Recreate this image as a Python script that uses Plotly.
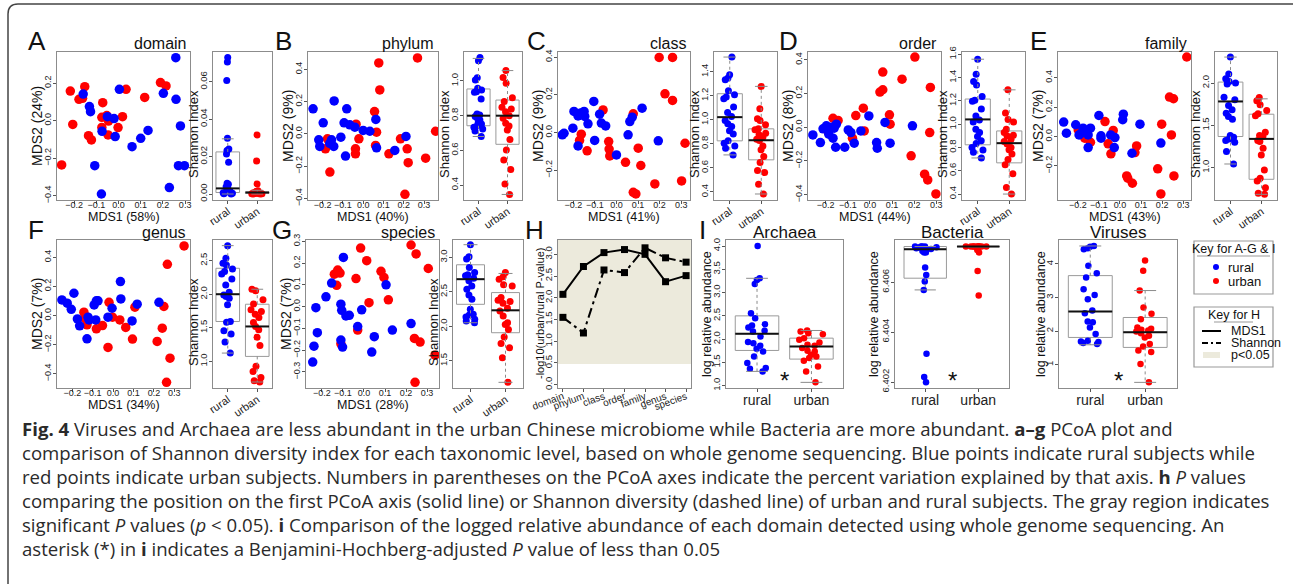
import plotly.graph_objects as go

W, H = 1293, 584
FONT = "Liberation Sans, Arial, sans-serif"
CAPFONT = "Open Sans, Lato, sans-serif"
BLUE, RED = "#0000FF", "#FF0000"
FRAME = "#8c8c8c"

# ---------------- data ----------------
# A domain
dom_rural_mds1 = [-0.159,-0.131,-0.126,-0.107,-0.077,-0.074,-0.050,-0.020,-0.015,0.004,0.061,0.100,0.133,0.202,0.229,0.258,0.259,0.270,0.279,0.297]
dom_rural_mds2 = [0.142,0.075,0.048,-0.240,-0.391,-0.057,0.021,0.011,-0.085,0.167,-0.139,-0.094,-0.052,0.146,-0.357,0.336,0.114,-0.240,-0.028,-0.240]
dom_urban_mds1 = [-0.256,-0.217,-0.152,-0.178,-0.162,-0.206,-0.135,-0.122,-0.071,-0.075,-0.075,-0.053,-0.045,-0.047,-0.002,0.018,0.034,0.118,0.189,0.214]
dom_urban_mds2 = [-0.236,0.158,0.181,0.114,0.119,-0.020,-0.080,-0.103,0.096,0.018,-0.036,0.027,-0.002,-0.076,-0.037,0.021,0.167,0.124,0.203,0.185]
dom_rural_sh = [0.073,0.0705,0.0607,0.0298,0.0241,0.0232,0.0214,0.017,0.0057,0.0052,0.0039,0.003,0.0021,0.0013,0.0004,0.0,0.0007,0.0018,0.0002,0.0011]
dom_urban_sh = [0.0316,0.0177,0.0054,0.0018,0.0013,0.0007,0.0004,0.0002,0.0,0.0011,0.0005,0.0009,0.0004,0.0014,0.0002,0.0007,0.0,0.0005,0.0004]
dom_rural_box = [0.0, 0.0008, 0.003, 0.0225, 0.0295]
dom_urban_box = [0.0, 0.0003, 0.0008, 0.0012, 0.002]

# B phylum
phy_rural_mds1 = [-0.247,-0.197,-0.143,-0.219,-0.214,-0.156,-0.145,-0.165,-0.110,-0.094,-0.081,-0.087,-0.066,-0.041,0.000,0.033,0.0625,0.066,0.156,0.211]
phy_rural_mds2 = [0.155,0.068,0.204,-0.037,-0.078,-0.037,-0.078,-0.06,-0.021,0.068,0.155,-0.138,0.056,0.041,0.021,0.016,0.089,-0.087,-0.103,-0.016]
phy_urban_mds1 = [0.077,0.082,0.268,0.056,0.066,0.061,-0.035,-0.021,-0.038,-0.038,-0.176,-0.186,-0.164,0.127,0.184,0.217,0.222,0.206,0.308,0.357]
phy_urban_mds2 = [0.439,0.272,0.470,0.138,0.010,-0.072,0.060,-0.031,-0.093,-0.124,-0.031,-0.093,-0.237,-0.124,-0.031,-0.093,-0.179,-0.375,-0.151,0.016]
phy_rural_sh = [1.135,1.117,1.019,1.006,0.958,0.948,0.938,0.935,0.896,0.81,0.804,0.795,0.788,0.775,0.762,0.752,0.742,0.733,0.723,0.712,0.68]
phy_urban_sh = [1.06,1.02,0.987,0.904,0.881,0.848,0.838,0.823,0.80,0.785,0.756,0.74,0.717,0.663,0.602,0.544,0.49,0.406,0.346]
phy_rural_box = [0.68, 0.742, 0.80, 0.954, 1.13]
phy_urban_box = [0.346, 0.635, 0.80, 0.89, 1.06]

# C class
cls_rural_mds1 = [-0.251,-0.243,-0.197,-0.178,-0.166,-0.150,-0.147,-0.132,-0.202,-0.178,-0.105,-0.078,-0.070,-0.050,-0.101,0.0,0.054,0.062,0.073,0.119,0.194]
cls_rural_mds2 = [-0.012,-0.004,0.112,0.088,0.103,0.112,0.085,0.046,0.023,-0.071,0.165,0.097,0.050,0.035,-0.042,-0.119,-0.012,0.058,0.081,0.129,-0.044]
cls_urban_mds1 = [-0.062,-0.163,-0.171,-0.136,-0.036,-0.034,-0.031,0.042,0.078,0.101,0.113,0.078,0.090,0.178,0.198,0.260,0.225,0.260,0.318,0.302]
cls_urban_mds2 = [0.120,-0.009,-0.042,-0.097,-0.048,-0.088,-0.124,-0.158,0.099,-0.083,-0.175,-0.317,-0.326,-0.273,0.398,0.398,0.205,0.170,-0.057,-0.257]
cls_rural_sh = [1.522,1.375,1.347,1.333,1.242,1.208,1.189,1.175,1.106,1.061,1.028,0.994,0.967,0.944,0.908,0.881,0.825,0.806,0.783,0.764,0.708]
cls_urban_sh = [1.278,1.092,1.008,0.994,0.958,0.925,0.917,0.889,0.875,0.856,0.839,0.828,0.783,0.75,0.694,0.644,0.578,0.561,0.464,0.383]
cls_rural_box = [0.708, 0.825, 1.022, 1.217, 1.522]
cls_urban_box = [0.383, 0.667, 0.83, 0.925, 1.278]

# D order
ord_rural_mds1 = [-0.258,-0.224,-0.212,-0.197,-0.186,-0.177,-0.167,-0.162,-0.152,-0.155,-0.114,-0.098,-0.086,-0.071,-0.041,-0.005,0.030,0.033,0.068,0.091,0.192]
ord_rural_mds2 = [-0.046,-0.091,-0.010,0.008,-0.042,0.0,-0.065,-0.006,0.018,-0.119,-0.119,-0.016,-0.032,-0.095,-0.022,0.067,-0.091,-0.125,0.028,-0.095,0.008]
ord_urban_mds1 = [-0.167,-0.144,-0.189,-0.079,-0.064,-0.030,-0.026,0.045,0.058,0.058,0.088,0.091,0.145,0.203,0.273,0.270,0.186,0.247,0.261,0.298]
ord_urban_mds2 = [0.053,0.040,-0.026,-0.065,0.069,0.113,-0.022,0.208,0.222,0.327,0.073,0.018,0.285,0.416,0.236,-0.032,-0.170,-0.279,-0.313,-0.396]
ord_rural_sh = [1.558,1.428,1.366,1.337,1.238,1.205,1.196,1.131,1.071,1.035,1.018,0.956,0.928,0.894,0.834,0.800,0.778,0.758,0.71,0.857]
ord_urban_sh = [1.295,1.097,1.041,1.018,0.956,0.928,0.905,0.871,0.852,0.829,0.8,0.781,0.744,0.696,0.651,0.575,0.456,0.40,0.9]
ord_rural_box = [0.71, 0.823, 1.041, 1.216, 1.558]
ord_urban_box = [0.40, 0.668, 0.837, 0.942, 1.295]

# E family
fam_rural_mds1 = [-0.267,-0.254,-0.21,-0.194,-0.183,-0.175,-0.162,-0.151,-0.140,-0.151,-0.1,-0.090,-0.090,-0.044,-0.024,-0.027,0.016,0.013,0.057,0.095,0.194]
fam_rural_mds2 = [0.098,0.023,0.080,0.011,0.023,0.057,0.027,0.011,0.057,-0.075,0.143,0.005,-0.011,0.011,-0.007,-0.075,0.152,0.114,-0.114,0.084,-0.045]
fam_urban_mds1 = [-0.198,-0.167,-0.140,-0.071,-0.056,-0.043,-0.032,0.032,0.037,0.059,0.079,0.071,0.179,0.194,0.198,0.235,0.254,0.244,0.256,0.317]
fam_urban_mds2 = [0.045,-0.011,-0.039,0.102,-0.05,-0.118,0.041,-0.268,-0.284,-0.318,-0.064,-0.109,-0.220,-0.391,0.084,0.268,0.257,0.011,-0.268,0.541]
fam_rural_sh = [2.308,2.107,2.051,2.02,2.0,1.988,1.834,1.802,1.735,1.644,1.605,1.573,1.379,1.36,1.34,1.32,1.3,1.19,1.043,1.684]
fam_urban_sh = [1.83,1.79,1.743,1.676,1.636,1.613,1.419,1.379,1.368,1.308,1.229,1.15,0.972,0.874,0.842,0.763,0.696,0.684,1.32]
fam_rural_box = [1.043, 1.368, 1.783, 2.012, 2.308]
fam_urban_box = [0.684, 0.862, 1.34, 1.632, 1.814]

# F genus
gen_rural_mds1 = [-0.251,-0.225,-0.205,-0.192,-0.175,-0.164,-0.128,-0.123,-0.118,-0.093,-0.082,-0.074,-0.085,-0.025,-0.005,0.036,0.038,0.093,0.118,0.225]
gen_rural_mds2 = [0.107,0.085,0.043,0.153,-0.023,-0.071,-0.160,-0.011,-0.030,0.073,0.101,0.101,-0.030,-0.011,0.050,0.233,0.114,-0.037,0.078,0.091]
gen_urban_mds1 = [-0.143,-0.139,-0.128,-0.082,-0.052,-0.020,-0.025,-0.003,0.033,0.062,0.095,0.107,0.216,0.241,0.249,0.266,0.279,0.262,0.348]
gen_urban_mds2 = [0.023,-0.018,-0.064,-0.091,-0.069,0.091,-0.219,-0.011,-0.030,-0.082,-0.162,0.057,-0.178,-0.087,0.062,0.352,-0.293,-0.459,0.478]
gen_rural_sh = [2.723,2.535,2.46,2.436,2.376,2.337,2.302,2.228,2.139,2.03,1.99,1.965,1.94,1.842,1.594,1.584,1.455,1.406,1.287,1.124]
gen_urban_sh = [2.074,2.05,1.916,1.856,1.767,1.743,1.703,1.579,1.52,1.47,1.361,1.238,0.926,0.851,0.762,0.713,0.693,1.653]
gen_rural_box = [1.124, 1.594, 2.0, 2.386, 2.723]
gen_urban_box = [0.693, 1.074, 1.52, 1.851, 2.074]

# G species
spe_rural_mds1 = [-0.244,-0.238,-0.229,-0.222,-0.181,-0.154,-0.110,-0.106,-0.110,-0.102,-0.098,-0.086,-0.070,-0.030,-0.011,0.037,0.049,0.105,0.135,0.224]
spe_rural_mds2 = [-0.255,-0.182,-0.005,-0.120,0.045,0.108,0.011,-0.017,-0.154,-0.186,0.226,-0.043,-0.040,-0.092,-0.015,-0.209,-0.138,0.100,-0.108,-0.078]
spe_urban_mds1 = [-0.141,-0.125,-0.114,-0.130,-0.110,-0.038,-0.030,-0.016,0.013,0.024,0.081,0.095,0.116,0.224,0.248,0.306,0.240,0.267,0.338,0.243]
spe_urban_mds2 = [0.149,0.168,0.154,0.098,-0.171,0.129,-0.108,0.269,0.211,0.018,0.162,0.134,0.031,0.283,0.242,0.175,-0.146,-0.163,-0.223,-0.348]
spe_rural_sh = [3.184,3.01,2.976,2.854,2.782,2.748,2.733,2.699,2.66,2.587,2.539,2.456,2.393,2.248,2.165,2.136,2.102,2.078,2.053,2.175]
spe_urban_sh = [2.782,2.718,2.684,2.587,2.417,2.379,2.359,2.262,2.223,2.15,2.053,1.956,1.845,1.752,1.689,1.544,1.189,2.029,2.335,2.602]
spe_rural_box = [2.053, 2.32, 2.684, 2.893, 3.184]
spe_urban_box = [1.189, 1.908, 2.233, 2.49, 2.767]

# H p-values
levels = ["domain", "phylum", "class", "order", "family", "genus", "species"]
mds1_logp = [2.08, 2.72, 3.04, 3.11, 3.0, 2.37, 2.51]
shannon_logp = [1.55, 1.19, 2.64, 2.58, 3.15, 2.92, 2.82]
signif_level = 0.475

# I abundance
arc_rural = [4.0,3.307,3.271,3.186,2.557,2.45,2.321,2.293,2.25,2.179,2.164,2.057,1.936,1.914,1.857,1.793,1.736,1.629,1.486,1.379,1.307,1.364]
arc_urban = [2.186,2.164,2.129,2.107,2.021,1.986,1.929,1.879,1.857,1.807,1.736,1.664,1.629,1.593,1.536,1.414,1.307,1.071,1.75]
arc_rural_box = [1.307, 1.757, 2.114, 2.5, 3.307]
arc_urban_box = [1.071, 1.571, 1.843, 2.021, 2.186]
bac_rural = [6.40743,6.40743,6.40743,6.40743,6.4074,6.40739,6.40736,6.40733,6.40732,6.40732,6.40725,6.40719,6.40719,6.40659,6.40629,6.40603,6.40569,6.40313,6.4022,6.40199]
bac_urban = [6.40743,6.40743,6.40743,6.40743,6.40743,6.40743,6.40743,6.40743,6.40743,6.40743,6.40736,6.40729,6.40719,6.40645,6.40547]
bac_rural_box = [6.40569, 6.40616, 6.40732, 6.40743, 6.40743]
bac_urban_box = [6.40741, 6.40742, 6.40743, 6.40743, 6.40743]
vir_rural = [4.535,4.515,4.465,4.436,3.95,3.723,3.594,3.248,3.079,2.95,2.614,2.535,2.287,2.267,2.109,1.911,1.693,1.673,1.644,1.614,1.713]
vir_urban = [4.1,3.80,3.208,2.703,2.515,2.356,2.109,2.069,2.02,1.99,1.94,1.861,1.812,1.614,1.545,1.426,1.376,1.02,0.475,2.04]
vir_rural_box = [1.594, 1.812, 2.584, 3.653, 4.535]
vir_urban_box = [0.475, 1.515, 1.970, 2.406, 3.208]

groups = ["rural", "urban"]

# ---------------- helpers ----------------
fig = go.Figure()
axes = {}
annots = []
shapes = []
count = [0]


def px2x(p):
    return p / W


def px2y(p):
    return 1 - p / H


def new_axes(xpx, ypx, xr, yr, xkw=None, ykw=None):
    count[0] += 1
    n = count[0]
    s = "" if n == 1 else str(n)
    base = dict(showline=True, mirror=True, linecolor=FRAME, linewidth=1, ticks="outside",
                ticklen=3, tickcolor="#555", showgrid=False, zeroline=False, fixedrange=True,
                automargin=False, tickfont=dict(family=FONT, size=9, color="#222"))
    xa = dict(base, domain=[px2x(xpx[0]), px2x(xpx[1])], range=xr, anchor="y" + s, tickangle=0,
              ticklabelstandoff=-7)
    ya = dict(base, domain=[px2y(ypx[1]), px2y(ypx[0])], range=yr, anchor="x" + s, tickangle=-90,
              ticklabelstandoff=-2)
    if xkw:
        xa.update(xkw)
    if ykw:
        ya.update(ykw)
    axes["xaxis" + s] = xa
    axes["yaxis" + s] = ya
    return "x" + s, "y" + s


def text(x, y, s, size, xanchor="center", yanchor="middle", angle=0, font=FONT, color="#111"):
    annots.append(dict(x=px2x(x), y=px2y(y), xref="paper", yref="paper", text=s, showarrow=False,
                       xanchor=xanchor, yanchor=yanchor, textangle=angle,
                       font=dict(family=font, size=size, color=color)))


def scatter_panel(xpx, ypx, xr, yr, yticks, rx, ry, ux, uy, xlab, ylab, title, letter, letter_xy):
    xa, ya = new_axes(xpx, ypx, xr, yr,
                      xkw=dict(tickvals=[-0.2, -0.1, 0.0, 0.1, 0.2, 0.3], tickformat=".1f"),
                      ykw=dict(tickvals=yticks, tickformat=".1f"))
    fig.add_trace(go.Scatter(x=ux, y=uy, mode="markers", xaxis=xa, yaxis=ya,
                             marker=dict(color=RED, size=9.5), hoverinfo="skip"))
    fig.add_trace(go.Scatter(x=rx, y=ry, mode="markers", xaxis=xa, yaxis=ya,
                             marker=dict(color=BLUE, size=9.5), hoverinfo="skip"))
    cx = (xpx[0] + xpx[1]) / 2
    text(cx, ypx[1] + 17, xlab, 12.5)
    text(xpx[0] - 20, (ypx[0] + ypx[1]) / 2, ylab, 14, angle=-90)
    text(xpx[1] - 2, ypx[0] - 8, title, 16, xanchor="right")
    text(letter_xy[0], letter_xy[1], letter, 26)


def box_group(xa, ya, pos, stats, pts, color, width=0.8, msize=7, jitter=0.55):
    lo, q1, med, q3, hi = stats
    fig.add_trace(go.Box(x=[pos], q1=[q1], median=[med], q3=[q3], lowerfence=[q1], upperfence=[q3],
                         width=width, fillcolor="white", line=dict(color="#9a9a9a", width=1),
                         whiskerwidth=0, boxpoints=False, xaxis=xa, yaxis=ya, hoverinfo="skip"))
    for a, b in ((q3, hi), (q1, lo)):
        fig.add_trace(go.Scatter(x=[pos, pos], y=[a, b], mode="lines", xaxis=xa, yaxis=ya,
                                 line=dict(color="#8a8a8a", width=1, dash="dot"), hoverinfo="skip"))
        fig.add_trace(go.Scatter(x=[pos - width / 4, pos + width / 4], y=[b, b], mode="lines",
                                 xaxis=xa, yaxis=ya, line=dict(color="#8a8a8a", width=1), hoverinfo="skip"))
    fig.add_trace(go.Scatter(x=[pos - width / 2, pos + width / 2], y=[med, med], mode="lines",
                             xaxis=xa, yaxis=ya, line=dict(color="#111", width=2), hoverinfo="skip"))
    fig.add_trace(go.Box(x=[pos] * len(pts), y=pts, boxpoints="all", jitter=jitter, pointpos=0,
                         width=width, fillcolor="rgba(0,0,0,0)", line=dict(color="rgba(0,0,0,0)", width=0),
                         whiskerwidth=0, marker=dict(color=color, size=msize, opacity=1),
                         xaxis=xa, yaxis=ya, hoverinfo="skip"))


def shannon_panel(xpx, ypx, yr, yticks, yfmt, rpts, upts, rbox, ubox):
    xa, ya = new_axes(xpx, ypx, [0.5, 2.5], yr,
                      xkw=dict(tickvals=[1, 2], ticktext=groups, tickangle=-35, ticklabelstandoff=-3,
                               tickfont=dict(family=FONT, size=11, color="#222")),
                      ykw=dict(tickvals=yticks, tickformat=yfmt,
                               tickfont=dict(family=FONT, size=9.5, color="#222")))
    box_group(xa, ya, 1, rbox, rpts, BLUE)
    box_group(xa, ya, 2, ubox, upts, RED)
    text(xpx[0] - 20, (ypx[0] + ypx[1]) / 2 + 8, "Shannon Index", 13, angle=-90)


def abund_panel(xpx, ypx, yr, yticks, yfmt, rpts, upts, rbox, ubox, title, ydx):
    xa, ya = new_axes(xpx, ypx, [0.43, 2.58], yr,
                      xkw=dict(tickvals=[1, 2], ticktext=groups, ticklabelstandoff=-4,
                               tickfont=dict(family=FONT, size=14, color="#222")),
                      ykw=dict(tickvals=yticks, tickformat=yfmt,
                               tickfont=dict(family=FONT, size=9.5, color="#222")))
    box_group(xa, ya, 1, rbox, rpts, BLUE, msize=6.5, jitter=0.6)
    box_group(xa, ya, 2, ubox, upts, RED, msize=6.5, jitter=0.6)
    cx = (xpx[0] + xpx[1]) / 2
    text(cx, ypx[0] - 8, title, 17)
    text(xpx[0] - ydx, (ypx[0] + ypx[1]) / 2, "log relative abundance", 12.5, angle=-90)
    text(cx, ypx[1] - 8, "*", 24)


TOP = (52, 200)
BOT = (240, 388)

# ---------------- top row ----------------
scatter_panel((57, 190), TOP, [-0.277, 0.322], [-0.423, 0.366], [-0.4, -0.2, 0.0, 0.2],
              dom_rural_mds1, dom_rural_mds2, dom_urban_mds1, dom_urban_mds2,
              "MDS1 (58%)", "MDS2 (24%)", "domain", "A", (37, 41))
shannon_panel((213, 272), TOP, [-0.0032, 0.0759], [0.0, 0.02, 0.04, 0.06], ".2f",
              dom_rural_sh, dom_urban_sh, dom_rural_box, dom_urban_box)

scatter_panel((308, 438), TOP, [-0.272, 0.369], [-0.41, 0.507], [-0.4, -0.2, 0.0, 0.2, 0.4],
              phy_rural_mds1, phy_rural_mds2, phy_urban_mds1, phy_urban_mds2,
              "MDS1 (40%)", "MDS2 (9%)", "phylum", "B", (283, 41))
shannon_panel((464, 522), TOP, [0.314, 1.167], [0.4, 0.6, 0.8, 1.0], ".1f",
              phy_rural_sh, phy_urban_sh, phy_rural_box, phy_urban_box)

scatter_panel((558, 690), TOP, [-0.271, 0.341], [-0.358, 0.427], [-0.2, 0.0, 0.2, 0.4],
              cls_rural_mds1, cls_rural_mds2, cls_urban_mds1, cls_urban_mds2,
              "MDS1 (41%)", "MDS2 (9%)", "class", "C", (536, 41))
shannon_panel((714, 777), TOP, [0.333, 1.564], [0.4, 0.6, 0.8, 1.0, 1.2, 1.4], ".1f",
              cls_rural_sh, cls_urban_sh, cls_rural_box, cls_urban_box)

scatter_panel((808, 941), TOP, [-0.28, 0.321], [-0.432, 0.446], [-0.4, -0.2, 0.0, 0.2, 0.4],
              ord_rural_mds1, ord_rural_mds2, ord_urban_mds1, ord_urban_mds2,
              "MDS1 (44%)", "MDS2 (8%)", "order", "D", (788, 41))
shannon_panel((962, 1025), TOP, [0.349, 1.62], [0.4, 0.6, 0.8, 1.0, 1.2, 1.4, 1.6], ".1f",
              ord_rural_sh, ord_urban_sh, ord_rural_box, ord_urban_box)

scatter_panel((1058, 1191), TOP, [-0.294, 0.337], [-0.432, 0.575], [-0.2, 0.0, 0.2, 0.4],
              fam_rural_mds1, fam_rural_mds2, fam_urban_mds1, fam_urban_mds2,
              "MDS1 (43%)", "MDS2 (7%)", "family", "E", (1038, 41))
shannon_panel((1215, 1277), TOP, [0.617, 2.368], [1.0, 1.5, 2.0], ".1f",
              fam_rural_sh, fam_urban_sh, fam_rural_box, fam_urban_box)

# ---------------- bottom row ----------------
scatter_panel((57, 190), BOT, [-0.275, 0.377], [-0.498, 0.519], [-0.4, -0.2, 0.0, 0.2, 0.4],
              gen_rural_mds1, gen_rural_mds2, gen_urban_mds1, gen_urban_mds2,
              "MDS1 (34%)", "MDS2 (7%)", "genus", "F", (36, 230))
shannon_panel((213, 272), BOT, [0.604, 2.807], [1.0, 1.5, 2.0, 2.5], ".1f",
              gen_rural_sh, gen_urban_sh, gen_rural_box, gen_urban_box)

scatter_panel((306, 439), BOT, [-0.276, 0.357], [-0.374, 0.306], [-0.3, -0.2, -0.1, 0.0, 0.1, 0.2, 0.3],
              spe_rural_mds1, spe_rural_mds2, spe_urban_mds1, spe_urban_mds2,
              "MDS1 (28%)", "MDS2 (7%)", "species", "G", (282, 230))
shannon_panel((453, 523), BOT, [1.107, 3.252], [1.5, 2.0, 2.5, 3.0], ".1f",
              spe_rural_sh, spe_urban_sh, spe_rural_box, spe_urban_box)

# H
hx, hy = new_axes((558, 691), BOT, [0.76, 7.24], [-0.076, 3.33],
                  xkw=dict(tickvals=list(range(1, 8)), ticktext=levels, tickangle=-20, ticklabelstandoff=-5,
                           tickfont=dict(family=FONT, size=10, color="#222")),
                  ykw=dict(tickvals=[0, 0.5, 1, 1.5, 2, 2.5, 3], tickformat=".1f",
                           tickfont=dict(family=FONT, size=9.5, color="#222")))
shapes.append(dict(type="rect", xref=hx + " domain", yref=hy, x0=0, x1=1, y0=signif_level, y1=3.33,
                   fillcolor="#ECEADC", line=dict(width=0), layer="below"))
lv = list(range(1, 8))
fig.add_trace(go.Scatter(x=lv, y=mds1_logp, mode="lines+markers", xaxis=hx, yaxis=hy,
                         line=dict(color="#000", width=2),
                         marker=dict(symbol="square", size=7, color="#000"), hoverinfo="skip"))
fig.add_trace(go.Scatter(x=lv, y=shannon_logp, mode="lines+markers", xaxis=hx, yaxis=hy,
                         line=dict(color="#000", width=2, dash="10px,4px,3px,4px"),
                         marker=dict(symbol="square", size=7, color="#000"), hoverinfo="skip"))
text(540, 314, "-log10(urban/rural P-value)", 11, angle=-90)
text(534, 230, "H", 26)

# I
abund_panel((726, 843), BOT, [0.95, 4.13], [1.0, 1.5, 2.0, 2.5, 3.0, 3.5, 4.0], ".1f",
            arc_rural, arc_urban, arc_rural_box, arc_urban_box, "Archaea", 19)
abund_panel((895, 1009), BOT, [6.40176, 6.40769], [6.402, 6.404, 6.406], ".3f",
            bac_rural, bac_urban, bac_rural_box, bac_urban_box, "Bacteria", 21)
abund_panel((1059, 1177), BOT, [0.307, 4.713], [1, 2, 3, 4], "d",
            vir_rural, vir_urban, vir_rural_box, vir_urban_box, "Viruses", 18)
text(702, 230, "I", 26)

# ---------------- keys ----------------
def prect(x0, y0, x1, y1, **kw):
    d = dict(type="rect", xref="paper", yref="paper", x0=px2x(x0), x1=px2x(x1), y0=px2y(y1), y1=px2y(y0))
    d.update(kw)
    shapes.append(d)


def pline(x0, y0, x1, y1, **kw):
    d = dict(type="line", xref="paper", yref="paper", x0=px2x(x0), x1=px2x(x1), y0=px2y(y0), y1=px2y(y1))
    d.update(kw)
    shapes.append(d)


prect(1194, 241, 1273, 294, line=dict(color="#999", width=1.2), fillcolor="white")
text(1233.5, 249, "Key for A-G & I", 12.5)
pline(1197, 256, 1270, 256, line=dict(color="#999", width=1))
for yy, c, lab in ((267, BLUE, "rural"), (281, RED, "urban")):
    shapes.append(dict(type="circle", xref="paper", yref="paper", x0=px2x(1213), x1=px2x(1219),
                       y0=px2y(yy + 3), y1=px2y(yy - 3), fillcolor=c, line=dict(width=0)))
    text(1226, yy, lab, 13, xanchor="left")

prect(1194, 307, 1273, 367, line=dict(color="#999", width=1.2), fillcolor="white")
text(1233.5, 315, "Key for H", 12.5)
pline(1214, 322, 1253, 322, line=dict(color="#999", width=1))
pline(1202, 331, 1221, 331, line=dict(color="#000", width=2))
text(1229, 331, "MDS1", 12.5, xanchor="left")
pline(1202, 343, 1221, 343, line=dict(color="#000", width=2, dash="6px,3px,2px,3px"))
text(1229, 343, "Shannon", 12.5, xanchor="left")
pline(1203, 355, 1220, 355, line=dict(color="#ECEADC", width=6))
text(1229, 355, "p&lt;0.05", 12.5, xanchor="left")

# ---------------- border ----------------
path = "M {a},{b} L {a},{c} Q {a},{d} {e},{d} L {f},{d}".format(
    a=px2x(8), b=px2y(584), c=px2y(14), d=px2y(4), e=px2x(18), f=px2x(1293))
shapes.append(dict(type="path", xref="paper", yref="paper", path=path, line=dict(color="#444", width=1.5)))

# ---------------- caption ----------------
caption = [
    "<b>Fig. 4</b> Viruses and Archaea are less abundant in the urban Chinese microbiome while Bacteria are more abundant. <b>a–g</b> PCoA plot and",
    "comparison of Shannon diversity index for each taxonomic level, based on whole genome sequencing. Blue points indicate rural subjects while",
    "red points indicate urban subjects. Numbers in parentheses on the PCoA axes indicate the percent variation explained by that axis. <b>h</b> <i>P</i> values",
    "comparing the position on the first PCoA axis (solid line) or Shannon diversity (dashed line) of urban and rural subjects. The gray region indicates",
    "significant <i>P</i> values (<i>p</i> &lt; 0.05). <b>i</b> Comparison of the logged relative abundance of each domain detected using whole genome sequencing. An",
    "asterisk (*) in <b>i</b> indicates a Benjamini-Hochberg-adjusted <i>P</i> value of less than 0.05",
]
for k, line in enumerate(caption):
    text(20, 428 + 24 * k, line, 18.6, xanchor="left", font=CAPFONT, color="#2a2a2a")

fig.update_layout(width=W, height=H, margin=dict(l=0, r=0, t=0, b=0, pad=0, autoexpand=False),
                  paper_bgcolor="white", plot_bgcolor="white", showlegend=False, boxmode="overlay",
                  annotations=annots, shapes=shapes, **axes)
fig.write_html("out.html", config={"responsive": False, "displayModeBar": False},
               post_script="document.body.style.margin='0';document.body.style.padding='0';")
